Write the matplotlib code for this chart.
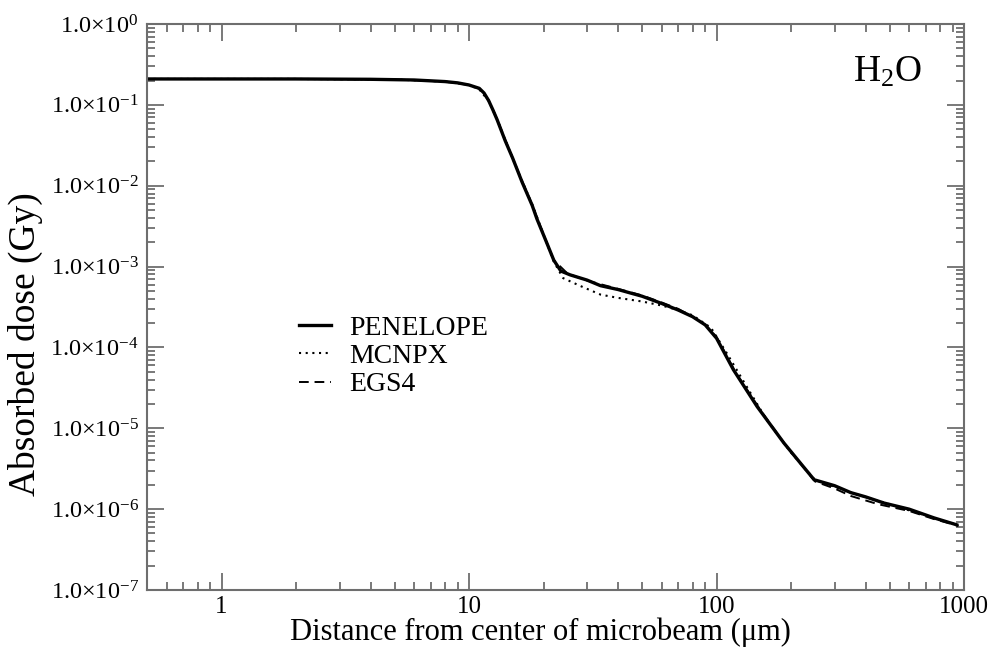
import numpy as np
import matplotlib
matplotlib.use("Agg")
import matplotlib.pyplot as plt
from matplotlib.ticker import LogLocator, FixedLocator, NullFormatter

plt.rcParams["font.family"] = ["Liberation Serif", "DejaVu Serif"]
plt.rcParams["mathtext.fontset"] = "custom"
plt.rcParams["mathtext.rm"] = "Liberation Serif"
plt.rcParams["mathtext.it"] = "Liberation Serif:italic"

# radial dose profiles in water (distance in um, dose in Gy)
penelope_x = [0.5, 1, 2, 4, 6, 8, 9, 10, 11, 11.5, 12, 12.5, 13, 14, 15, 16.4,
              18, 18.8, 20.7, 22, 23.5, 25.6, 30, 34, 40, 45, 50, 60, 70, 80, 90,
              100, 117, 146, 187, 220, 248, 300, 349, 400, 475, 600, 756, 934]
penelope_y = [0.209, 0.209, 0.209, 0.207, 0.203, 0.194, 0.187, 0.176, 0.16, 0.14,
              0.113, 0.086, 0.065, 0.036, 0.022, 0.011, 0.0057, 0.0039, 0.0019,
              0.0012, 0.00088, 0.00079, 0.00068, 0.00058, 0.00052, 0.00047,
              0.00043, 0.00035, 0.00029, 0.00024, 0.00019, 0.00013, 5.3e-5,
              1.85e-5, 6.6e-6, 3.6e-6, 2.31e-6, 1.95e-6, 1.6e-6, 1.42e-6, 1.19e-6,
              1.0e-6, 7.8e-7, 6.4e-7]

mcnpx_x = [0.5, 2, 5, 8, 10, 11, 12, 13, 14, 16, 18, 20, 22, 24, 28, 34, 40, 50,
           60, 70, 80, 95, 110, 130, 160, 200, 250, 350, 500, 750, 950]
mcnpx_y = [0.209, 0.209, 0.206, 0.194, 0.176, 0.155, 0.112, 0.066, 0.037, 0.0135,
           0.0059, 0.0025, 0.00115, 0.00072, 0.00058, 0.00045, 0.00041, 0.00037,
           0.00033, 0.00029, 0.00025, 0.000175, 8.5e-5, 3.6e-5, 1.25e-5, 5e-6,
           2.3e-6, 1.6e-6, 1.15e-6, 7.8e-7, 6.3e-7]

egs4_x = [0.5, 2, 5, 8, 10, 11, 12, 13, 14, 16, 18, 20, 22, 25, 30, 40, 50, 60,
          70, 80, 90, 100, 120, 150, 190, 250, 300, 350, 450, 600, 750, 950]
egs4_y = [0.209, 0.209, 0.206, 0.194, 0.176, 0.158, 0.114, 0.066, 0.037, 0.0136,
          0.0058, 0.0025, 0.0012, 0.00082, 0.00067, 0.00053, 0.00044, 0.00036,
          0.00030, 0.00024, 0.00019, 0.000135, 4.8e-5, 1.7e-5, 6.2e-6, 2.2e-6,
          1.8e-6, 1.45e-6, 1.15e-6, 9.5e-7, 7.6e-7, 6.2e-7]

x_ticks = [1, 10, 100, 1000]
x_ticklabels = ["1", "10", "100", "1000"]
y_exponents = [0, -1, -2, -3, -4, -5, -6, -7]

fig = plt.figure(figsize=(9.92, 6.5), dpi=100)
ax = fig.add_axes([0.1482, 0.0923, 0.8236, 0.8708])

ax.plot(penelope_x, penelope_y, color="black", lw=2.4, label="PENELOPE")
ax.plot(mcnpx_x, mcnpx_y, color="black", lw=1.5, ls=(0, (1, 2.2)), label="MCNPX")
ax.plot(egs4_x, egs4_y, color="black", lw=1.4, ls=(0, (5, 3)), label="EGS4")

ax.set_xscale("log")
ax.set_yscale("log")
ax.set_xlim(0.5, 1000)
ax.set_ylim(1e-7, 1)

ax.xaxis.set_major_locator(FixedLocator(x_ticks))
ax.set_xticklabels(x_ticklabels)
ax.xaxis.set_minor_locator(LogLocator(base=10, subs=np.arange(2, 10)))
ax.xaxis.set_minor_formatter(NullFormatter())

ax.yaxis.set_major_locator(FixedLocator([10.0 ** e for e in y_exponents]))
ax.set_yticklabels([r"1.0$\times$10$^{%d}$" % e for e in y_exponents])
ax.yaxis.set_minor_locator(LogLocator(base=10, subs=np.arange(2, 10)))
ax.yaxis.set_minor_formatter(NullFormatter())

axis_gray = "#6e6e6e"
for side in ax.spines.values():
    side.set_color(axis_gray)
    side.set_linewidth(1.5)
ax.tick_params(which="both", direction="in", top=True, right=True,
               color=axis_gray, width=1.3)
ax.tick_params(which="major", length=12)
ax.tick_params(axis="x", which="major", labelsize=18, pad=4)
ax.tick_params(axis="y", which="major", labelsize=17.5, pad=6)
ax.tick_params(which="minor", length=6)

ax.set_xlabel("Distance from center of microbeam (\u03bcm)", fontsize=22, labelpad=0)
ax.xaxis.label.set_x(0.482)
ax.set_ylabel("Absorbed dose (Gy)", fontsize=27, labelpad=5)
ax.yaxis.label.set_y(0.435)

ax.text(0.9486, 0.8975, r"H$_2$O", transform=ax.transAxes, ha="right",
        va="baseline", fontsize=27)

ax.legend(loc="upper left", bbox_to_anchor=(0.186, 0.485), frameon=False,
          fontsize=20, handlelength=1.15, handletextpad=0.65, labelspacing=0.1,
          borderpad=0, borderaxespad=0)

fig.savefig("out.png", dpi=100)
